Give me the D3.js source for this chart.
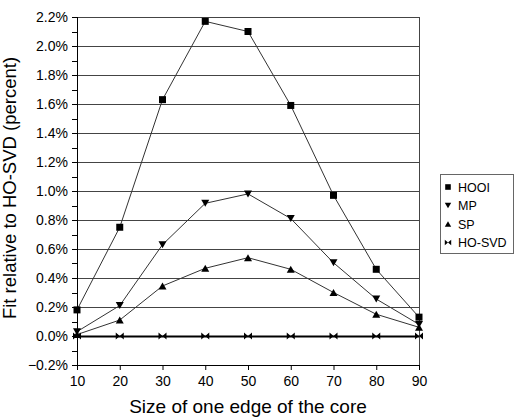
<!DOCTYPE html>
<html lang="en">
<head>
<meta charset="UTF-8">
<script src="https://d3js.org/d3.v7.min.js"></script>
<style>
  body { margin: 0; background: #fff; }
  text { font-family: "Liberation Sans", Arial, sans-serif; }
  .axis path, .axis line { stroke: #000; }
  .axis text { font-size: 14px; fill: #000; }
</style>
</head>
<body>
<svg id="chart" width="519" height="418"></svg>
<script>
// ---- data ----
var sizes = [10, 20, 30, 40, 50, 60, 70, 80, 90];
var hooi  = [0.18, 0.75, 1.63, 2.17, 2.10, 1.59, 0.97, 0.46, 0.13];
var mp    = [0.03, 0.21, 0.63, 0.915, 0.98, 0.81, 0.505, 0.255, 0.08];
var sp    = [0.01, 0.11, 0.345, 0.467, 0.54, 0.46, 0.30, 0.15, 0.06];
var hosvd = [0, 0, 0, 0, 0, 0, 0, 0, 0];
var seriesNames = ["HOOI", "MP", "SP", "HO-SVD"];
var yTicks = [-0.2, 0, 0.2, 0.4, 0.6, 0.8, 1.0, 1.2, 1.4, 1.6, 1.8, 2.0, 2.2];

var svg = d3.select("#chart");
var pLeft = 77, pRight = 419, pTop = 17, pBottom = 365;

var x = d3.scaleLinear().domain([10, 90]).range([pLeft, pRight]);
var y = d3.scaleLinear().domain([-0.2, 2.2]).range([pBottom, pTop]);

// gridlines
svg.append("g").selectAll("line")
  .data(yTicks.filter(function(d){ return d > -0.2; }))
  .enter().append("line")
  .attr("x1", pLeft).attr("x2", pRight)
  .attr("y1", function(d){ return Math.round(y(d)) + 0.5; })
  .attr("y2", function(d){ return Math.round(y(d)) + 0.5; })
  .attr("stroke", function(d){ return d === 0 ? "#000" : "#444"; })
  .attr("stroke-width", function(d){ return d === 0 ? 2 : 1; });

// right border
svg.append("line")
  .attr("x1", pRight + 0.5).attr("x2", pRight + 0.5).attr("y1", pTop).attr("y2", pBottom)
  .attr("stroke", "#444");

// minor y ticks
var minor = d3.range(-0.1, 2.2, 0.2);
svg.append("g").selectAll("line")
  .data(minor).enter().append("line")
  .attr("x1", pLeft - 5).attr("x2", pLeft)
  .attr("y1", function(d){ return Math.round(y(d)) + 0.5; })
  .attr("y2", function(d){ return Math.round(y(d)) + 0.5; })
  .attr("stroke", "#000");

// axes
var yAxis = d3.axisLeft(y).tickValues(yTicks).tickSize(5).tickPadding(4)
  .tickFormat(function(d){ return d3.format(".1f")(d) + "%"; });
svg.append("g").attr("class", "axis")
  .attr("transform", "translate(" + pLeft + ",0)")
  .call(yAxis)
  .call(function(g){ g.select(".domain").attr("d", "M0.5," + pTop + "V" + pBottom); });

var xAxis = d3.axisBottom(x).tickValues(sizes).tickSize(5).tickPadding(6);
svg.append("g").attr("class", "axis")
  .attr("transform", "translate(0," + pBottom + ")")
  .call(xAxis)
  .call(function(g){ g.select(".domain").attr("d", "M" + pLeft + ",0.5H" + pRight); });

// axis titles
svg.append("text")
  .attr("x", 248).attr("y", 413)
  .attr("text-anchor", "middle")
  .attr("font-size", "19px")
  .text("Size of one edge of the core");

svg.append("text")
  .attr("transform", "translate(16,188) rotate(-90)")
  .attr("text-anchor", "middle")
  .attr("font-size", "18.5px")
  .text("Fit relative to HO-SVD (percent)");

// markers
function marker(name, s) {
  s = s || 1;
  if (name === "HOOI") return "M" + (-3.5*s) + "," + (-3.5*s) + "h" + 7*s + "v" + 7*s + "h" + (-7*s) + "Z";
  if (name === "MP") return "M" + (-4*s) + "," + (-3.5*s) + "L" + 4*s + "," + (-3.5*s) + "L0," + 3.5*s + "Z";
  if (name === "SP") return "M" + (-4*s) + "," + 3.5*s + "L" + 4*s + "," + 3.5*s + "L0," + (-3.5*s) + "Z";
  return "M" + (-4*s) + "," + (-3.5*s) + "L0,0L" + (-4*s) + "," + 3.5*s + "Z M" + 4*s + "," + (-3.5*s) + "L0,0L" + 4*s + "," + 3.5*s + "Z";
}

var allSeries = [hooi, mp, sp, hosvd];
var line = d3.line().x(function(d, i){ return x(sizes[i]); }).y(function(d){ return y(d); });

allSeries.forEach(function(vals, k) {
  if (k < 3) {
    svg.append("path").datum(vals)
      .attr("d", line).attr("fill", "none")
      .attr("stroke", "#333").attr("stroke-width", 1);
  }
  svg.append("g").selectAll("path")
    .data(vals).enter().append("path")
    .attr("transform", function(d, i){ return "translate(" + x(sizes[i]) + "," + y(d) + ")"; })
    .attr("d", marker(seriesNames[k]))
    .attr("fill", "#000");
});

// legend
var lg = svg.append("g").attr("transform", "translate(440,174)");
lg.append("rect").attr("x", 0.5).attr("y", 0.5).attr("width", 73).attr("height", 79)
  .attr("fill", "#fff").attr("stroke", "#666");
seriesNames.forEach(function(n, k) {
  var yy = 13 + k * 18.5;
  lg.append("path").attr("transform", "translate(8," + yy + ")")
    .attr("d", marker(n, 0.8)).attr("fill", "#000");
  lg.append("text").attr("x", 18).attr("y", yy + 4.5)
    .attr("font-size", "12.5px").text(n);
});
</script>
</body>
</html>
